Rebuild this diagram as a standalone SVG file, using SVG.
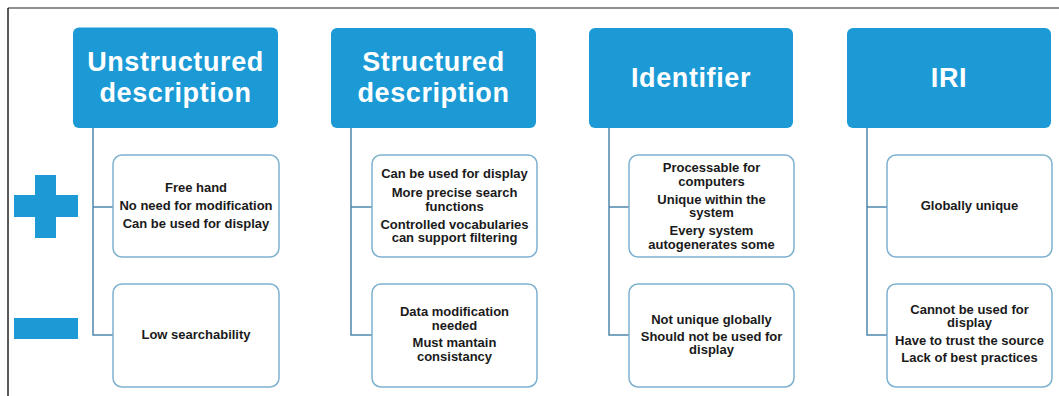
<svg xmlns="http://www.w3.org/2000/svg" width="1059" height="396" viewBox="0 0 1059 396">
  <style>
    .head { fill: #1b9ad6; }
    .head-text { font-family: "Liberation Sans", Arial, sans-serif; font-weight: bold; font-size: 27px; letter-spacing: 0.6px; fill: #ffffff; text-anchor: middle; }
    .card { fill: #ffffff; stroke: #7db1cf; stroke-width: 1.5; }
    .card-text { font-family: "Liberation Sans", Arial, sans-serif; font-weight: bold; font-size: 13px; fill: #1a1a1a; text-anchor: middle; }
    .link { fill: none; stroke: #4f86ab; stroke-width: 1.5; }
    .sign { fill: #1b9ad6; }
  </style>

  <rect x="0" y="0" width="1059" height="396" fill="#ffffff"/>

  <!-- frame -->
  <line x1="8" y1="8" x2="1059" y2="8" stroke="#6a6a6a" stroke-width="1.5"/>
  <line x1="8" y1="8" x2="8" y2="396" stroke="#222222" stroke-width="1.5"/>

  <!-- plus / minus row markers -->
  <g id="plus">
    <rect class="sign" x="14" y="195" width="64" height="22"/>
    <rect class="sign" x="35" y="175" width="21" height="63"/>
  </g>
  <g id="minus">
    <rect class="sign" x="14" y="318" width="64" height="21"/>
  </g>

  <!-- connectors -->
  <g id="connectors">
    <path class="link" d="M93,128 V335 H113 M93,207 H113"/>
    <path class="link" d="M351,128 V335 H372 M351,207 H372"/>
    <path class="link" d="M609,128 V335 H629 M609,207 H629"/>
    <path class="link" d="M867,128 V335 H887 M867,207 H887"/>
  </g>

  <!-- column 1 -->
  <g id="unstructured">
    <rect class="head" x="73" y="27.5" width="205" height="100.5" rx="6"/>
    <text class="head-text" x="175.5" y="71">Unstructured</text>
    <text class="head-text" x="175.5" y="102">description</text>
  </g>
  <g id="unstructured-pro">
    <rect class="card" x="113" y="155" width="166" height="102" rx="9"/>
    <text class="card-text" x="196" y="191.5">Free hand</text>
    <text class="card-text" x="196" y="210">No need for modification</text>
    <text class="card-text" x="196" y="227.5">Can be used for display</text>
  </g>
  <g id="unstructured-con">
    <rect class="card" x="113" y="284" width="166" height="103" rx="9"/>
    <text class="card-text" x="196" y="338.5">Low searchability</text>
  </g>

  <!-- column 2 -->
  <g id="structured">
    <rect class="head" x="331" y="28" width="205" height="100" rx="6"/>
    <text class="head-text" x="433.5" y="71">Structured</text>
    <text class="head-text" x="433.5" y="102">description</text>
  </g>
  <g id="structured-pro">
    <rect class="card" x="372" y="155" width="165" height="102" rx="9"/>
    <text class="card-text" x="454.5" y="178">Can be used for display</text>
    <text class="card-text" x="454.5" y="197">More precise search</text>
    <text class="card-text" x="454.5" y="210.5">functions</text>
    <text class="card-text" x="454.5" y="228.5">Controlled vocabularies</text>
    <text class="card-text" x="454.5" y="242">can support filtering</text>
  </g>
  <g id="structured-con">
    <rect class="card" x="372" y="284" width="165" height="103" rx="9"/>
    <text class="card-text" x="454.5" y="316">Data modification</text>
    <text class="card-text" x="454.5" y="329.5">needed</text>
    <text class="card-text" x="454.5" y="347">Must mantain</text>
    <text class="card-text" x="454.5" y="360.5">consistancy</text>
  </g>

  <!-- column 3 -->
  <g id="identifier">
    <rect class="head" x="589" y="28" width="204" height="100" rx="6"/>
    <text class="head-text" x="691" y="87">Identifier</text>
  </g>
  <g id="identifier-pro">
    <rect class="card" x="629" y="155" width="165" height="102" rx="9"/>
    <text class="card-text" x="711.5" y="172">Processable for</text>
    <text class="card-text" x="711.5" y="185.5">computers</text>
    <text class="card-text" x="711.5" y="203.5">Unique within the</text>
    <text class="card-text" x="711.5" y="217">system</text>
    <text class="card-text" x="711.5" y="235">Every system</text>
    <text class="card-text" x="711.5" y="248.5">autogenerates some</text>
  </g>
  <g id="identifier-con">
    <rect class="card" x="629" y="284" width="165" height="103" rx="9"/>
    <text class="card-text" x="711.5" y="323.5">Not unique globally</text>
    <text class="card-text" x="711.5" y="340.5">Should not be used for</text>
    <text class="card-text" x="711.5" y="354">display</text>
  </g>

  <!-- column 4 -->
  <g id="iri">
    <rect class="head" x="847" y="28" width="204" height="100" rx="6"/>
    <text class="head-text" x="949" y="87">IRI</text>
  </g>
  <g id="iri-pro">
    <rect class="card" x="887" y="155" width="165" height="102" rx="9"/>
    <text class="card-text" x="969.5" y="209.5">Globally unique</text>
  </g>
  <g id="iri-con">
    <rect class="card" x="887" y="284" width="165" height="103" rx="9"/>
    <text class="card-text" x="969.5" y="313.5">Cannot be used for</text>
    <text class="card-text" x="969.5" y="327">display</text>
    <text class="card-text" x="969.5" y="344.5">Have to trust the source</text>
    <text class="card-text" x="969.5" y="362">Lack of best practices</text>
  </g>
</svg>
